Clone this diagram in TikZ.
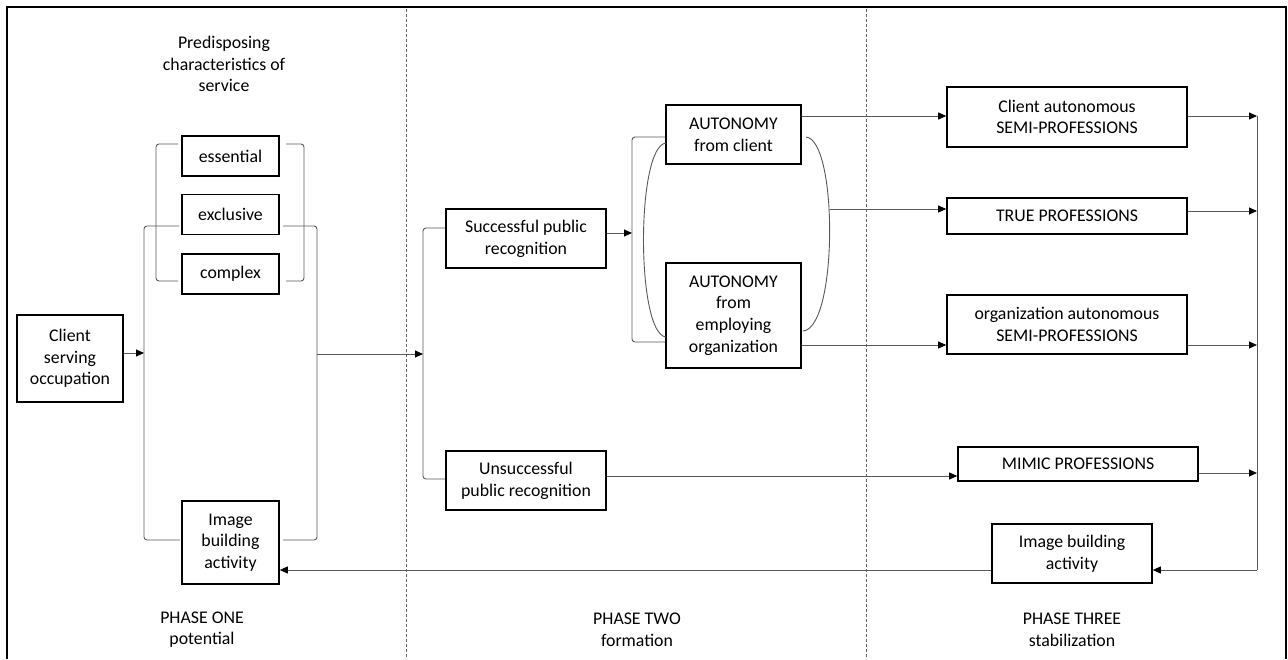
\documentclass[tikz,border=0pt]{standalone}
\usepackage{fontspec}
\setmainfont{Carlito}
\usetikzlibrary{arrows.meta}
\begin{document}
\begin{tikzpicture}[x=1pt,y=-1pt,
  every node/.style={font=\fontsize{17.8}{21.7}\selectfont, text=black, align=center, inner sep=0pt},
  box/.style 2 args={draw=black, line width=1.6pt, minimum width=#1pt, minimum height=#2pt},
  frame/.style={draw=black, line width=1.8pt},
  phase/.style={draw=black!60, line width=0.8pt, dash pattern=on 3pt off 2pt},
  brace/.style={draw=black!65, line width=0.9pt, rounded corners=3pt},
  link/.style={draw=black!65, line width=0.9pt},
  arr/.style={link, -{Triangle[length=8pt,width=7pt,black]}}]
\useasboundingbox (0,0) rectangle (1288,659);

% outer frame (open at the bottom)
\draw[frame] (7,659) -- (7,7) -- (1286,7) -- (1286,659);

% phase separators
\draw[phase] (406,9) -- (406,659);
\draw[phase] (866,9) -- (866,659);

% ---------- phase one ----------
\node (pre) at (224,64) {Predisposing\\characteristics of\\service};
\node[box={97}{40}] (ess) at (230.5,156) {essential};
\node[box={97}{40}] (exc) at (230.5,214.5) {exclusive};
\node[box={97}{40}] (cpx) at (230.5,274) {complex};
\node[box={106}{87}] (client) at (70,358.5) {Client\\serving\\occupation};
\node[box={97}{83}] (imgL) at (230.5,542.5) {Image\\building\\activity};

% brackets grouping the characteristics
\draw[brace] (178,144) -- (156,144) -- (156,281) -- (178,281);
\draw[brace] (286,144) -- (304,144) -- (304,281) -- (286,281);
\draw[brace] (179,226) -- (144,226) -- (144,540) -- (180,540);
\draw[brace] (283,226) -- (317,226) -- (317,540) -- (283,540);

\coordinate (obL) at (144,353);
\coordinate (obR) at (317,354);

% ---------- phase two ----------
\node[box={160}{59}] (succ) at (526,238.5) {Successful public\\recognition};
\node[box={160}{59}] (unsucc) at (526,480.5) {Unsuccessful\\public recognition};
\node[box={135}{59}] (autoC) at (733.5,134.5) {AUTONOMY\\from client};
\node[box={135}{105}] (autoE) at (733.5,315.5) {AUTONOMY\\from\\employing\\organization};

\draw[brace] (succ.west |- 0,228) -- (423,228) -- (423,479) -- (unsucc.west |- 0,479);
\coordinate (pbL) at (423,354);

\draw[brace] (autoC.west |- 0,137) -- (632,137) -- (632,342) -- (autoE.west |- 0,342);
\coordinate (ibL) at (632,233);

% rounded grouping of the two autonomies
\draw[link] (666,143) .. controls (636,146) and (636,334) .. (666,337);
\draw[link] (806,137) .. controls (838,140) and (838,328) .. (803,331);
\coordinate (rc) at (830,209);

% ---------- phase three ----------
\node[box={240}{60}] (ca) at (1067,117) {Client autonomous\\SEMI-PROFESSIONS};
\node[box={240}{36}] (tru) at (1067,216) {TRUE PROFESSIONS};
\node[box={240}{59}] (org) at (1067,324.5) {organization autonomous\\SEMI-PROFESSIONS};
\node[box={240}{34}] (mim) at (1078,464) {MIMIC PROFESSIONS};
\node[box={160}{59}] (imgR) at (1072,553.5) {Image building\\activity};

\coordinate (vTop) at (1257,116);
\coordinate (vBot) at (1257,570);

% phase labels
\node (p1) at (202,629.5) {PHASE ONE\\potential};
\node (p2) at (637,629.5) {PHASE TWO\\formation};
\node (p3) at (1072,629.5) {PHASE THREE\\stabilization};

% ---------- connectors ----------
\draw[arr] (client.east |- obL) -- (obL);
\draw[arr] (obR) -- (pbL);
\draw[arr] (succ.east |- ibL) -- (ibL);

\draw[arr] (autoC.east |- vTop) -- (ca.west |- vTop);
\draw[arr] (rc) -- (rc -| tru.west);
\draw[arr] (autoE.east |- 0,345) -- (org.west |- 0,345);
\draw[arr] (unsucc.east |- 0,476) -- (mim.west |- 0,476);

\draw[arr] (ca.east |- vTop) -- (vTop);
\draw[arr] (tru.east |- 0,211) -- (vTop |- 0,211);
\draw[arr] (org.east |- 0,345) -- (vTop |- 0,345);
\draw[arr] (mim.east |- 0,473) -- (vTop |- 0,473);

\draw[link] (vTop) -- (vBot);
\draw[arr] (vBot) -- (imgR.east |- vBot);
\draw[arr] (imgR.west |- vBot) -- (imgL.east |- vBot);
\end{tikzpicture}
\end{document}
